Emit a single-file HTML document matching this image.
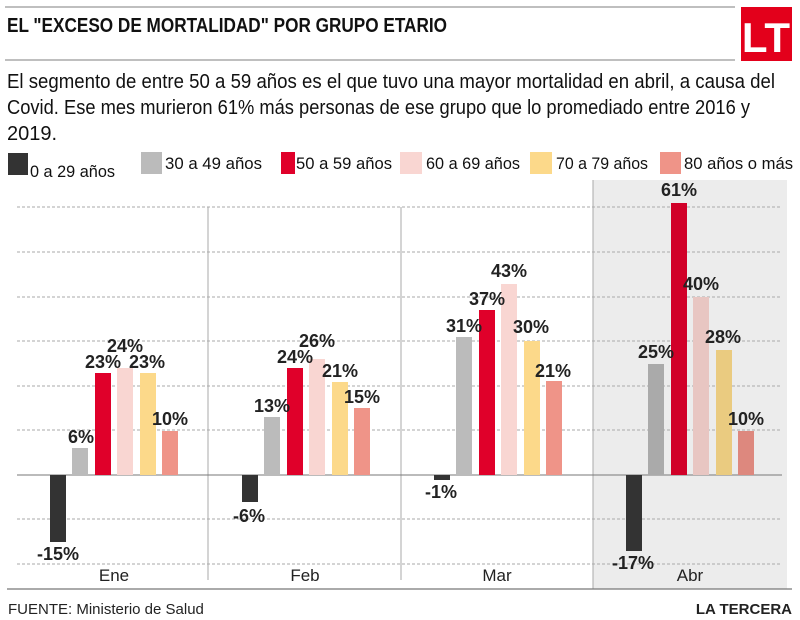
<!DOCTYPE html>
<html><head><meta charset="utf-8"><style>
body{margin:0;width:800px;height:620px;background:#fff;overflow:hidden;font-family:"Liberation Sans",sans-serif;}
</style></head><body>
<svg width="800" height="620" viewBox="0 0 800 620" xmlns="http://www.w3.org/2000/svg" style="position:absolute;left:0;top:0">
<line x1="5" y1="7" x2="735" y2="7" stroke="#999" stroke-width="1.2"/>
<line x1="5" y1="60" x2="735" y2="60" stroke="#999" stroke-width="1.2"/>
<text x="7" y="32" font-family="Liberation Sans Narrow, Liberation Sans, sans-serif" font-weight="bold" font-size="20" fill="#111" textLength="440" lengthAdjust="spacingAndGlyphs">EL "EXCESO DE MORTALIDAD" POR GRUPO ETARIO</text>
<rect x="741" y="7" width="51" height="54" fill="#e3001b"/>
<text x="766" y="52" text-anchor="middle" font-family="Liberation Sans Narrow, Liberation Sans, sans-serif" font-weight="bold" font-size="42" fill="#fff">LT</text>
<g font-family="Liberation Sans Narrow, Liberation Sans, sans-serif" font-size="20" fill="#111">
<text x="7" y="88" textLength="768" lengthAdjust="spacingAndGlyphs">El segmento de entre 50 a 59 años es el que tuvo una mayor mortalidad en abril, a causa del</text>
<text x="7" y="114" textLength="743" lengthAdjust="spacingAndGlyphs">Covid. Ese mes murieron 61% más personas de ese grupo que lo promediado entre 2016 y</text>
<text x="7" y="140">2019.</text>
</g>
<g font-family="Liberation Sans Narrow, Liberation Sans, sans-serif" font-size="17" fill="#111">
<rect x="8" y="153" width="20" height="22" fill="#333"/><text x="30" y="177" textLength="85" lengthAdjust="spacingAndGlyphs">0 a 29 años</text>
<rect x="141" y="152" width="21" height="22" fill="#bbb"/><text x="165" y="169" textLength="97" lengthAdjust="spacingAndGlyphs">30 a 49 años</text>
<rect x="281" y="152" width="14" height="22" fill="#e0002a"/><text x="296" y="169" textLength="96" lengthAdjust="spacingAndGlyphs">50 a 59 años</text>
<rect x="400" y="152" width="22" height="22" fill="#f9d6d2"/><text x="426" y="169" textLength="94" lengthAdjust="spacingAndGlyphs">60 a 69 años</text>
<rect x="530" y="152" width="22" height="22" fill="#fcd98a"/><text x="556" y="169" textLength="92" lengthAdjust="spacingAndGlyphs">70 a 79 años</text>
<rect x="660" y="152" width="21" height="22" fill="#ef9488"/><text x="684" y="169" textLength="109" lengthAdjust="spacingAndGlyphs">80 años o más</text>
</g>
<rect x="593" y="180" width="194" height="409" fill="#ececec"/>
<g stroke="#aaa" stroke-width="1" stroke-dasharray="3,2">
<line x1="17" y1="207" x2="782" y2="207"/><line x1="17" y1="252" x2="782" y2="252"/>
<line x1="17" y1="297" x2="782" y2="297"/><line x1="17" y1="341" x2="782" y2="341"/>
<line x1="17" y1="386" x2="782" y2="386"/><line x1="17" y1="430" x2="782" y2="430"/>
<line x1="17" y1="519" x2="782" y2="519"/><line x1="17" y1="564" x2="782" y2="564"/>
</g>
<g stroke="#aaa" stroke-width="1">
<line x1="208" y1="207" x2="208" y2="580"/><line x1="401" y1="207" x2="401" y2="580"/><line x1="593" y1="180" x2="593" y2="589"/>
</g>
<line x1="17" y1="475" x2="782" y2="475" stroke="#777" stroke-width="1"/>
<g>
<rect x="50" y="475" width="16" height="67" fill="#333"/><rect x="72" y="448" width="16" height="27" fill="#bbb"/><rect x="95" y="373" width="16" height="102" fill="#e0002a"/><rect x="117" y="368" width="16" height="107" fill="#f9d6d2"/><rect x="140" y="373" width="16" height="102" fill="#fcd98a"/><rect x="162" y="431" width="16" height="44" fill="#ef9488"/>
<rect x="242" y="475" width="16" height="27" fill="#333"/><rect x="264" y="417" width="16" height="58" fill="#bbb"/><rect x="287" y="368" width="16" height="107" fill="#e0002a"/><rect x="309" y="359" width="16" height="116" fill="#f9d6d2"/><rect x="332" y="382" width="16" height="93" fill="#fcd98a"/><rect x="354" y="408" width="16" height="67" fill="#ef9488"/>
<rect x="434" y="475" width="16" height="5" fill="#333"/><rect x="456" y="337" width="16" height="138" fill="#bbb"/><rect x="479" y="310" width="16" height="165" fill="#e0002a"/><rect x="501" y="284" width="16" height="191" fill="#f9d6d2"/><rect x="524" y="341" width="16" height="134" fill="#fcd98a"/><rect x="546" y="381" width="16" height="94" fill="#ef9488"/>
<rect x="626" y="475" width="16" height="76" fill="#333"/><rect x="648" y="364" width="16" height="111" fill="#aaa"/><rect x="671" y="203" width="16" height="272" fill="#d10028"/><rect x="693" y="297" width="16" height="178" fill="#e8c6c2"/><rect x="716" y="350" width="16" height="125" fill="#eacb80"/><rect x="738" y="431" width="16" height="44" fill="#dd887e"/>
</g>
<g font-size="18" font-weight="bold" fill="#222" text-anchor="middle">
<text x="58" y="560">-15%</text><text x="81" y="443">6%</text><text x="103" y="368">23%</text><text x="125" y="352">24%</text><text x="147" y="368">23%</text><text x="170" y="425">10%</text>
<text x="249" y="522">-6%</text><text x="272" y="412">13%</text><text x="295" y="363">24%</text><text x="317" y="347">26%</text><text x="340" y="377">21%</text><text x="362" y="403">15%</text>
<text x="441" y="498">-1%</text><text x="464" y="332">31%</text><text x="487" y="305">37%</text><text x="509" y="277">43%</text><text x="531" y="333">30%</text><text x="553" y="377">21%</text>
<text x="633" y="569">-17%</text><text x="656" y="358">25%</text><text x="679" y="196">61%</text><text x="701" y="290">40%</text><text x="723" y="343">28%</text><text x="746" y="425">10%</text>
</g>
<g font-size="17" fill="#222" text-anchor="middle">
<text x="114" y="581">Ene</text><text x="305" y="581">Feb</text><text x="497" y="581">Mar</text><text x="690" y="581">Abr</text>
</g>
<line x1="7" y1="589" x2="792" y2="589" stroke="#777" stroke-width="1.2"/>
<text x="8" y="614" font-family="Liberation Sans Narrow, Liberation Sans, sans-serif" font-size="15" fill="#222">FUENTE: Ministerio de Salud</text>
<text x="792" y="614" text-anchor="end" font-family="Liberation Sans Narrow, Liberation Sans, sans-serif" font-weight="bold" font-size="15" fill="#222">LA TERCERA</text>
</svg>
</body></html>
